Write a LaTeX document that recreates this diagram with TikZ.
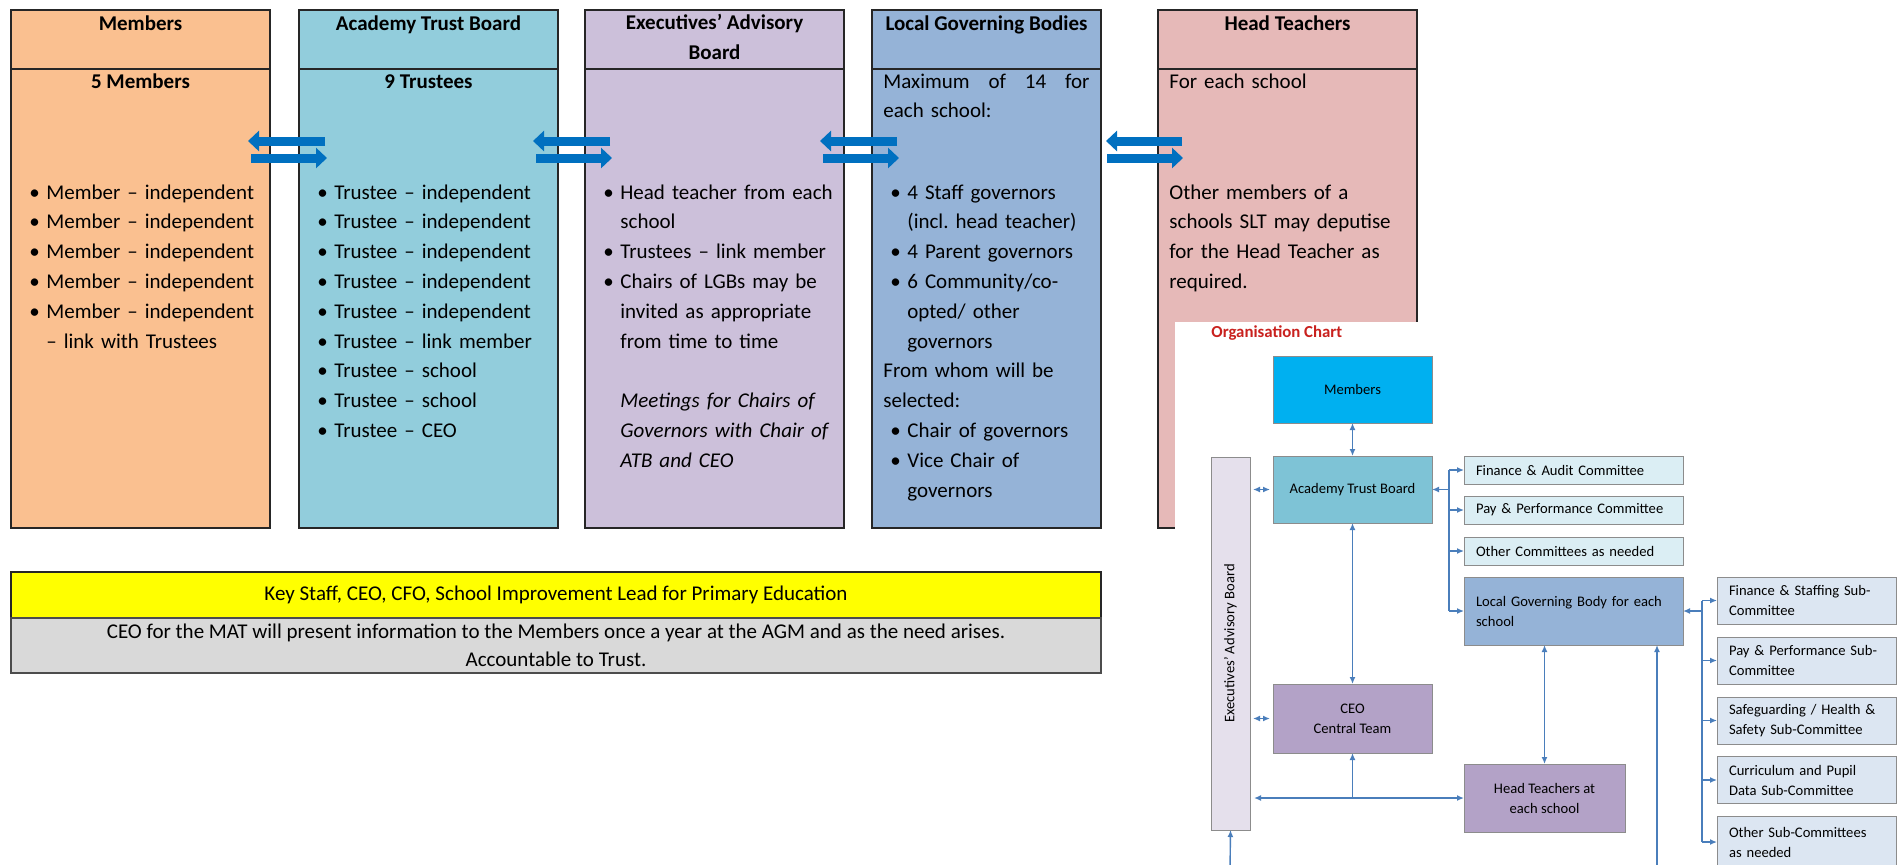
\documentclass[tikz,border=0pt]{standalone}
\usepackage{fontspec}
\setmainfont{Carlito}
\usetikzlibrary{positioning,arrows.meta,calc}

\definecolor{memfill}{HTML}{FAC090}
\definecolor{atbfill}{HTML}{92CDDC}
\definecolor{exefill}{HTML}{CCC0DA}
\definecolor{lgbfill}{HTML}{95B3D7}
\definecolor{htfill}{HTML}{E6B9B8}
\definecolor{keyfill}{HTML}{FFFF00}
\definecolor{notefill}{HTML}{D9D9D9}
\definecolor{pairblue}{HTML}{0070C0}
\definecolor{chartline}{HTML}{4A7EBB}
\definecolor{chartred}{HTML}{C9211E}
\definecolor{cmemfill}{HTML}{00B0F0}
\definecolor{catbfill}{HTML}{7EC3D6}
\definecolor{ccomfill}{HTML}{DBEEF4}
\definecolor{csubfill}{HTML}{DCE6F2}
\definecolor{cexefill}{HTML}{E5E0EC}
\definecolor{cpurple}{HTML}{B3A2C7}

\newcommand{\bodyfont}{\fontsize{10.5}{14.9}\selectfont}
\newcommand{\chartfont}{\fontsize{7.3}{10}\selectfont}
\newcommand{\bulfirst}{\noindent\hangindent=12pt\hangafter=1\hbox to 12pt{\hskip3.5pt\textbullet\hfil}\ignorespaces}
\newcommand{\bul}{\par\bulfirst}

\begin{document}
\begin{tikzpicture}[x=0.5pt, y=-0.5pt,
  hdbox/.style={draw=black!85, line width=0.7pt, minimum width=129.5pt, minimum height=29.5pt, inner sep=0pt, outer sep=0pt},
  bdbox/.style={hdbox, minimum height=229.5pt},
  hdtext/.style={anchor=base, inner sep=0pt, font=\bodyfont\bfseries, align=center},
  listtext/.style={anchor=base west, inner sep=0pt, font=\bodyfont, text width=#1, align=left},
  listtext/.default=120pt,
  pairarrow/.style={draw=pairblue, line width=4.5pt, -{Triangle[width=10pt,length=5.5pt]}},
  cbox/.style={draw=black!45, line width=0.5pt, inner sep=0pt, outer sep=0pt, font=\chartfont, align=center},
  cmain/.style={cbox, minimum width=79.5pt, minimum height=33.5pt},
  cleft/.style={cbox, align=left, inner xsep=6pt, text width=#1, anchor=west},
  ccom/.style={cleft=97.5pt, fill=ccomfill, minimum height=14pt},
  csub/.style={cleft=77.5pt, fill=csubfill, minimum height=23.5pt},
  cline/.style={draw=chartline, line width=0.7pt, >={Latex[length=3.5pt,width=3pt]}}
]
\fill[white] (0,0) rectangle (1899,864);
\useasboundingbox (0,0) rectangle (1899,864);

% columns
\node[hdbox, fill=memfill, anchor=north west] (memH) at (11,10) {};
\node[hdbox, fill=atbfill, right=14.5pt of memH] (atbH) {};
\node[hdbox, fill=exefill, right=13.5pt of atbH] (exeH) {};
\node[hdbox, fill=lgbfill, minimum width=114.5pt, right=14pt of exeH] (lgbH) {};
\node[hdbox, fill=htfill, right=28.5pt of lgbH] (htH) {};

\node[bdbox, fill=memfill, below=0pt of memH] (memB) {};
\node[bdbox, fill=atbfill, below=0pt of atbH] (atbB) {};
\node[bdbox, fill=exefill, below=0pt of exeH] (exeB) {};
\node[bdbox, fill=lgbfill, minimum width=114.5pt, below=0pt of lgbH] (lgbB) {};
\node[bdbox, fill=htfill, below=0pt of htH] (htB) {};

\node[hdtext] (memHT) at ($(memH.north)+(0,20)$) {Members};
\node[hdtext] (atbHT) at ($(atbH.north)+(0,20)$) {Academy Trust Board};
\node[hdtext] (exeHT) at ($(exeH.north)+(0,49)$) {Executives' Advisory\\Board};
\node[hdtext] (lgbHT) at ($(lgbH.north)+(0,20)$) {Local Governing Bodies};
\node[hdtext] (htHT) at ($(htH.north)+(0,20)$) {Head Teachers};

\node[hdtext] (memTitle) at ($(memB.north)+(0,19)$) {5 Members};
\node[hdtext] (atbTitle) at ($(atbB.north)+(0,19)$) {9 Trustees};
\node[listtext=103pt] (lgbTop) at ($(lgbB.north west)+(11,19)$)
  {Maximum \hfill of \hfill 14 \hfill for\newline each school:};
\node[listtext] (htTop) at ($(htB.north west)+(11,19)$) {For each school};

\node[listtext] (memList) at ($(memB.north west)+(11,130)$) {%
  \bulfirst Member -- independent
  \bul Member -- independent
  \bul Member -- independent
  \bul Member -- independent
  \bul Member -- independent\newline -- link with Trustees\par};
\node[listtext] (atbList) at ($(atbB.north west)+(11,130)$) {%
  \bulfirst Trustee -- independent
  \bul Trustee -- independent
  \bul Trustee -- independent
  \bul Trustee -- independent
  \bul Trustee -- independent
  \bul Trustee -- link member
  \bul Trustee -- school
  \bul Trustee -- school
  \bul Trustee -- CEO\par};
\node[listtext] (exeList) at ($(exeB.north west)+(11,130)$) {%
  \bulfirst Head teacher from each\newline school
  \bul Trustees -- link member
  \bul Chairs of LGBs may be\newline invited as appropriate\newline from time to time
  \par\mbox{}\par\noindent\hangindent=12pt\hangafter=0
  \textit{Meetings for Chairs of\newline Governors with Chair of\newline ATB and CEO}\par};
\node[listtext=103pt] (lgbList) at ($(lgbB.north west)+(11,130)$) {%
  \bulfirst 4 Staff governors\newline (incl.\ head teacher)
  \bul 4 Parent governors
  \bul 6 Community/co-\newline opted/ other\newline governors
  \par\noindent From whom will be\newline selected:
  \bul Chair of governors
  \bul Vice Chair of\newline governors\par};
\node[listtext] (htList) at ($(htB.north west)+(11,130)$)
  {Other members of a\newline schools SLT may deputise\newline for the Head Teacher as\newline required.};

% two-way arrows between the columns
\foreach \a/\b/\lu/\ru/\ll/\rl in {memB/atbB/-22/26/-19/28, atbB/exeB/-25/25/-22/27,
                                   exeB/lgbB/-24/25/-21/27, lgbB/htB/5/24/6/25} {
  \draw[pairarrow] ($(\b.north west)+(\ru,72)$) -- ($(\a.north east)+(\lu,72)$);
  \draw[pairarrow] ($(\a.north east)+(\ll,89)$) -- ($(\b.north west)+(\rl,89)$);
}

% key staff bars
\node[draw=black!85, line width=0.7pt, fill=keyfill, minimum width=545pt, minimum height=23pt,
      inner sep=0pt, outer sep=0pt, anchor=north west, font=\bodyfont] (keyBar)
  at ($(memB.south west)+(0,44)$) {Key Staff, CEO, CFO, School Improvement Lead for Primary Education};
\node[draw=black!70, line width=0.7pt, fill=notefill, minimum width=545pt, minimum height=27.5pt,
      inner sep=0pt, outer sep=0pt, below=0pt of keyBar, align=center,
      font=\fontsize{10.5}{14}\selectfont] (noteBar)
  {CEO for the MAT will present information to the Members once a year at the AGM and as the need arises.\\Accountable to Trust.};

% organisation chart
\node[fill=white, inner sep=0pt, outer sep=0pt, minimum width=362pt, minimum height=271pt,
      anchor=north west] (chartBg) at (1175,322) {};
\node[anchor=base west, inner sep=0pt, font=\bfseries\fontsize{8.4}{10}\selectfont, text=chartred]
  (chartTitle) at (1211,337) {Organisation Chart};

\node[cmain, fill=cmemfill] (cMem) at (1352.5,389.5) {Members};
\node[cmain, fill=catbfill] (cATB) at (1352.5,489.5) {Academy Trust Board};
\node[cmain, fill=cpurple, minimum height=34.5pt] (cCEO) at (1352.5,718.5) {CEO\\Central Team};
\node[cbox, fill=cexefill, minimum width=19.5pt, minimum height=186.5pt] (cExe) at (1230.5,643.5) {};
\node[rotate=90, inner sep=0pt, font=\chartfont] (cExeText) at (cExe) {Executives' Advisory Board};

\node[ccom] (cFin) at (1464,470) {Finance \& Audit Committee};
\node[ccom] (cPayC) at (1464,510) {Pay \& Performance Committee};
\node[ccom] (cOthC) at (1464,551) {Other Committees as needed};
\node[cleft=97.5pt, fill=lgbfill, minimum height=34pt] (cLGB) at (1464,611) {Local Governing Body for each\\school};
\node[cbox, fill=cpurple, minimum width=80.5pt, minimum height=34pt] (cHT) at (1544.5,798) {Head Teachers at\\each school};

\node[csub] (cSubFin) at (1717,600.5) {Finance \& Staffing Sub-\\Committee};
\node[csub] (cSubPay) at (1717,660.5) {Pay \& Performance Sub-\\Committee};
\node[csub] (cSubSafe) at (1717,720.5) {Safeguarding / Health \&\\Safety Sub-Committee};
\node[csub] (cSubCurr) at (1717,780) {Curriculum and Pupil\\Data Sub-Committee};
\node[csub, minimum height=26pt] (cSubOth) at (1717,842) {Other Sub-Committees\\as needed};

\draw[cline,<->] (cMem) -- (cATB);
\draw[cline,<->] (cATB) -- (cCEO);
\draw[cline,<->, shorten <=1.5pt, shorten >=1.5pt] (cExe.east |- cATB.west) -- (cATB.west);
\draw[cline,<->, shorten <=1.5pt, shorten >=1.5pt] (cExe.east |- cCEO.west) -- (cCEO.west);
\draw[cline,<->, shorten <=2pt] (cExe.east |- cHT.west) -- (cHT.west);
\draw[cline,->] (cCEO.south |- cHT.west) -- (cCEO.south);
\draw[cline,<->] (cHT.north) -- (cHT.north |- cLGB.south);
\coordinate (exeFeed) at (1230,870);
\draw[cline,->] (exeFeed) -- (cExe.south);
\coordinate (lgbFeed) at (1657,870);
\draw[cline,->] (lgbFeed) -- (lgbFeed |- cLGB.south);

\coordinate (comTrunk) at (1449,0);
\draw[cline] (comTrunk |- cFin.west) -- (comTrunk |- cLGB.west);
\draw[cline,->] (comTrunk |- cATB.east) -- (cATB.east);
\foreach \cn in {cFin,cPayC,cOthC,cLGB}
  \draw[cline,->] (comTrunk |- \cn.west) -- (\cn.west);

\coordinate (subTrunk) at (1702,0);
\draw[cline] (subTrunk |- cSubFin.west) -- (subTrunk |- cSubOth.west);
\draw[cline,->] (subTrunk |- cLGB.east) -- (cLGB.east);
\foreach \cn in {cSubFin,cSubPay,cSubSafe,cSubCurr,cSubOth}
  \draw[cline,->] (subTrunk |- \cn.west) -- (\cn.west);

\end{tikzpicture}
\end{document}
